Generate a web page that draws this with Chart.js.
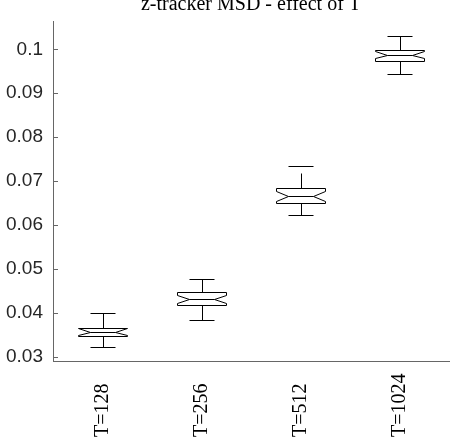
<!DOCTYPE html>
<html><head><meta charset="utf-8">
<script src="https://cdn.jsdelivr.net/npm/chart.js@4.4.1/dist/chart.umd.min.js"></script>
<style>html,body{margin:0;padding:0;background:#fff;overflow:hidden}canvas{display:block}</style>
</head><body>
<canvas id="c" width="452" height="446"></canvas>
<script>
const categories = ['T=128', 'T=256', 'T=512', 'T=1024'];
const whiskerLow = [0.0323, 0.0384, 0.0623, 0.0944];
const q1 = [0.0347, 0.0419, 0.0650, 0.0974];
const median = [0.0358, 0.0431, 0.0667, 0.0987];
const q3 = [0.0367, 0.0447, 0.0684, 0.0999];
const whiskerHigh = [0.0399, 0.0477, 0.0735, 0.1031];
const notchLow = [0.0351, 0.0422, 0.0656, 0.0980];
const notchHigh = [0.0365, 0.0440, 0.0678, 0.0995];
const yTickValues = [0.03, 0.04, 0.05, 0.06, 0.07, 0.08, 0.09, 0.1];
const yTickLabels = ['0.03', '0.04', '0.05', '0.06', '0.07', '0.08', '0.09', '0.1'];
const titleText = 'z-tracker MSD - effect of T';

const SERIF = '"Liberation Serif","Times New Roman",serif';
const SANS = '"Liberation Sans",Arial,sans-serif';

const boxPlugin = {
  id: 'boxPlugin',
  afterDatasetsDraw(chart) {
    const ctx = chart.ctx;
    const ys = chart.scales.y;
    const meta = chart.getDatasetMeta(0);
    const P = v => Math.round(ys.getPixelForValue(v)) + 0.5;
    ctx.save();
    ctx.strokeStyle = '#000';
    ctx.lineWidth = 1;
    meta.data.forEach((bar, i) => {
      const cx = bar.x;
      const hw = bar.width / 2;
      const nw = bar.width / 4;
      const L = Math.round(cx - hw) + 0.5, R = Math.round(cx + hw) + 0.5;
      const nL = Math.round(cx - nw) + 0.5, nR = Math.round(cx + nw) + 0.5;
      const cX = Math.round(cx) + 0.5;
      const yQ3 = P(q3[i]), yQ1 = P(q1[i]), yM = P(median[i]);
      const yNH = P(notchHigh[i]), yNL = P(notchLow[i]);
      const yWH = P(whiskerHigh[i]), yWL = P(whiskerLow[i]);
      // notched box
      ctx.setLineDash([]);
      ctx.beginPath();
      ctx.moveTo(L, yQ3); ctx.lineTo(R, yQ3); ctx.lineTo(R, yNH); ctx.lineTo(nR, yM);
      ctx.lineTo(R, yNL); ctx.lineTo(R, yQ1); ctx.lineTo(L, yQ1); ctx.lineTo(L, yNL);
      ctx.lineTo(nL, yM); ctx.lineTo(L, yNH); ctx.closePath();
      ctx.stroke();
      // median
      ctx.beginPath(); ctx.moveTo(nL, yM); ctx.lineTo(nR, yM); ctx.stroke();
      // whiskers (dashed)
      ctx.setLineDash([15, 8]);
      ctx.beginPath(); ctx.moveTo(cX, yQ3); ctx.lineTo(cX, yWH); ctx.stroke();
      ctx.beginPath(); ctx.moveTo(cX, yQ1); ctx.lineTo(cX, yWL); ctx.stroke();
      ctx.setLineDash([]);
      // caps
      ctx.beginPath(); ctx.moveTo(nL, yWH); ctx.lineTo(nR, yWH); ctx.stroke();
      ctx.beginPath(); ctx.moveTo(nL, yWL); ctx.lineTo(nR, yWL); ctx.stroke();
    });
    ctx.restore();
  },
  afterDraw(chart) {
    const ctx = chart.ctx;
    const ys = chart.scales.y, xs = chart.scales.x;
    ctx.save();
    // inward y ticks
    ctx.strokeStyle = '#666';
    ctx.lineWidth = 1;
    const x0 = chart.chartArea.left;
    ys.ticks.forEach(t => {
      const y = Math.round(ys.getPixelForValue(t.value)) + 0.5;
      ctx.beginPath(); ctx.moveTo(x0, y); ctx.lineTo(x0 + 5, y); ctx.stroke();
    });
    // rotated category labels, start-aligned at the bottom
    ctx.fillStyle = '#000';
    ctx.font = '20px ' + SERIF;
    ctx.textAlign = 'left';
    ctx.textBaseline = 'middle';
    categories.forEach((c, i) => {
      const x = xs.getPixelForValue(i);
      ctx.save();
      ctx.translate(x, xs.bottom - 9);
      ctx.rotate(-Math.PI / 2);
      ctx.fillText(c, 0, 0);
      ctx.restore();
    });
    ctx.restore();
  }
};

new Chart(document.getElementById('c'), {
  type: 'bar',
  data: {
    labels: categories,
    datasets: [{
      data: categories.map((c, i) => [q1[i], q3[i]]),
      backgroundColor: 'rgba(0,0,0,0)',
      borderWidth: 0,
      barPercentage: 0.505,
      categoryPercentage: 1
    }]
  },
  options: {
    responsive: false,
    animation: false,
    devicePixelRatio: 1,
    layout: { padding: { left: 0, right: 3, top: 0, bottom: 0 } },
    plugins: {
      legend: { display: false },
      tooltip: { enabled: false },
      title: {
        display: true,
        text: titleText,
        fullSize: false,
        color: '#000',
        font: { family: SERIF, size: 20, weight: 'normal', lineHeight: 1.2 },
        padding: { top: -9, bottom: 5 }
      }
    },
    scales: {
      x: {
        type: 'category',
        offset: true,
        grid: { display: false, drawTicks: false },
        border: { display: true, color: '#666', width: 1 },
        ticks: { display: false },
        afterFit: s => { s.height = 85; }
      },
      y: {
        type: 'linear',
        min: 0.029094,
        max: 0.106343,
        grid: { display: false, drawTicks: false },
        border: { display: true, color: '#666', width: 1 },
        afterBuildTicks: s => { s.ticks = yTickValues.map(v => ({ value: v })); },
        ticks: {
          padding: 10,
          color: '#262626',
          font: { family: SANS, size: 19 },
          callback: v => yTickLabels[yTickValues.indexOf(v)]
        },
        afterFit: s => { s.width = 53; }
      }
    }
  },
  plugins: [boxPlugin]
});
</script>
</body></html>
